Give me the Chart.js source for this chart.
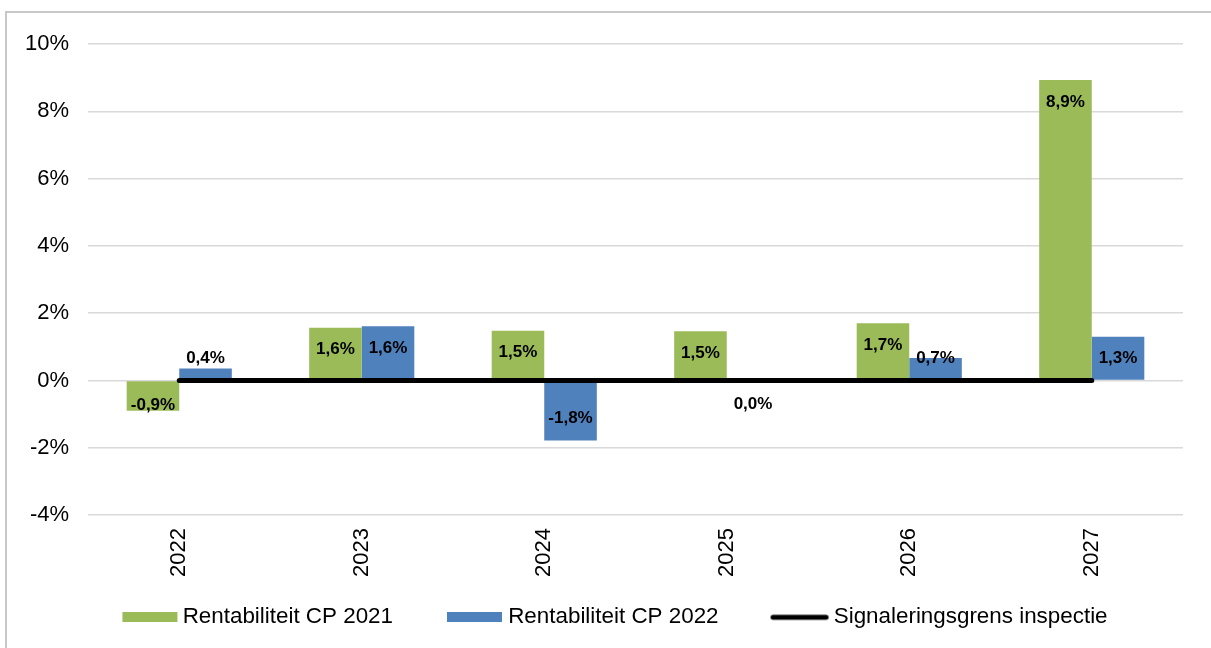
<!DOCTYPE html>
<html>
<head>
<meta charset="utf-8">
<script src="https://cdn.jsdelivr.net/npm/chart.js@4.4.1/dist/chart.umd.min.js"></script>
<style>
  html, body { margin: 0; padding: 0; background: #ffffff; }
  #wrap { position: relative; width: 1211px; height: 648px; }
</style>
</head>
<body>
<div id="wrap"><canvas id="c" width="1211" height="648"></canvas></div>
<script>
// ---- data ----
const categories = ['2022', '2023', '2024', '2025', '2026', '2027'];
const rentabiliteitCP2021 = [-0.9, 1.57, 1.48, 1.46, 1.70, 8.93];
const rentabiliteitCP2022 = [0.36, 1.61, -1.78, 0.0, 0.67, 1.30];
const signaleringsgrens = [0, 0, 0, 0, 0, 0];
const seriesNames = ['Rentabiliteit CP 2021', 'Rentabiliteit CP 2022', 'Signaleringsgrens inspectie'];
const yTickMin = -4, yTickMax = 10, yTickStep = 2;

const FONT = "'Liberation Sans', Arial, Helvetica, sans-serif";
const GREEN = '#9BBB59';
const BLUE = '#4F81BD';
const PSW = 96;       // legend symbol slot width
const ICON_W = 110;   // icon canvas width (centred in slot)

function makeBox(color, offset, w, h) {
  const cv = document.createElement('canvas');
  cv.width = ICON_W; cv.height = h;
  const g = cv.getContext('2d');
  g.fillStyle = color;
  g.fillRect(offset, 0, w, h);
  return cv;
}
function makeLine(offset, w, h) {
  const cv = document.createElement('canvas');
  cv.width = ICON_W; cv.height = h;
  const g = cv.getContext('2d');
  g.strokeStyle = '#000';
  g.lineWidth = 5;
  g.lineCap = 'round';
  g.beginPath();
  g.moveTo(offset + 2.5, h / 2);
  g.lineTo(offset + w - 2.5, h / 2);
  g.stroke();
  return cv;
}
const legendIcons = [makeBox(GREEN, 54, 55, 10), makeBox(BLUE, 53, 55, 10), makeLine(51, 58, 8)];

const fmt = v => v.toFixed(1).replace('.', ',').replace('-0,0', '0,0') + '%';

const borderPlugin = {
  id: 'frame',
  beforeDraw(chart) {
    const ctx = chart.ctx;
    ctx.save();
    ctx.strokeStyle = '#c8c8c8';
    ctx.lineWidth = 2;
    ctx.beginPath();
    ctx.moveTo(6, 648);
    ctx.lineTo(6, 12);
    ctx.lineTo(1211, 12);
    ctx.stroke();
    ctx.restore();
  }
};

const labelPlugin = {
  id: 'barLabels',
  afterDatasetsDraw(chart) {
    const ctx = chart.ctx;
    ctx.save();
    ctx.font = 'bold 17px ' + FONT;
    ctx.fillStyle = '#000';
    ctx.textAlign = 'center';
    ctx.textBaseline = 'middle';
    chart.data.datasets.forEach((ds, di) => {
      if (ds.type !== 'bar') return;
      const meta = chart.getDatasetMeta(di);
      meta.data.forEach((el, i) => {
        const v = ds.data[i];
        const base = el.base;
        let y;
        if (v > 0) y = Math.min(el.y + 22, base - 21);
        else y = Math.max(el.y - 22, base + 24);
        ctx.fillText(fmt(v), el.x, y);
      });
    });
    ctx.restore();
  }
};

new Chart(document.getElementById('c'), {
  data: {
    labels: categories,
    datasets: [
      { type: 'bar', label: seriesNames[0], data: rentabiliteitCP2021, backgroundColor: GREEN,
        borderWidth: 0, order: 1, barPercentage: 1, categoryPercentage: 0.576 },
      { type: 'bar', label: seriesNames[1], data: rentabiliteitCP2022, backgroundColor: BLUE,
        borderWidth: 0, order: 1, barPercentage: 1, categoryPercentage: 0.576 },
      { type: 'line', label: seriesNames[2], data: signaleringsgrens, borderColor: '#000',
        backgroundColor: '#000', borderWidth: 5, borderCapStyle: 'round', pointRadius: 0,
        pointHoverRadius: 0, tension: 0, order: 0 }
    ]
  },
  options: {
    responsive: false,
    animation: false,
    devicePixelRatio: 1,
    layout: { padding: { left: 0, right: 28, top: 44, bottom: 9.5 } },
    scales: {
      x: {
        grid: { display: false, drawTicks: false },
        border: { display: false },
        ticks: { minRotation: 90, maxRotation: 90, padding: 13, color: '#000',
                 font: { family: FONT, size: 22 } },
        afterFit(scale) { scale.height = 83; }
      },
      y: {
        min: yTickMin, max: yTickMax,
        grid: { color: '#d9d9d9', lineWidth: 1.5, drawTicks: false },
        border: { display: false },
        ticks: { stepSize: yTickStep, padding: 19, color: '#000',
                 font: { family: FONT, size: 22 },
                 callback: v => v + '%' },
        afterFit(scale) { scale.width = 88; }
      }
    },
    plugins: {
      legend: {
        position: 'bottom',
        labels: {
          usePointStyle: true,
          pointStyleWidth: PSW,
          boxHeight: 10,
          padding: 8,
          color: '#000',
          font: { family: FONT, size: 22.4 },
          generateLabels(chart) {
            return chart.data.datasets.map((ds, i) => ({
              text: ds.label,
              pointStyle: legendIcons[i],
              fillStyle: 'transparent',
              strokeStyle: 'transparent',
              lineWidth: 0,
              hidden: false,
              datasetIndex: i,
              fontColor: '#000'
            }));
          }
        }
      },
      tooltip: { enabled: false }
    }
  },
  plugins: [borderPlugin, labelPlugin]
});
</script>
</body>
</html>
